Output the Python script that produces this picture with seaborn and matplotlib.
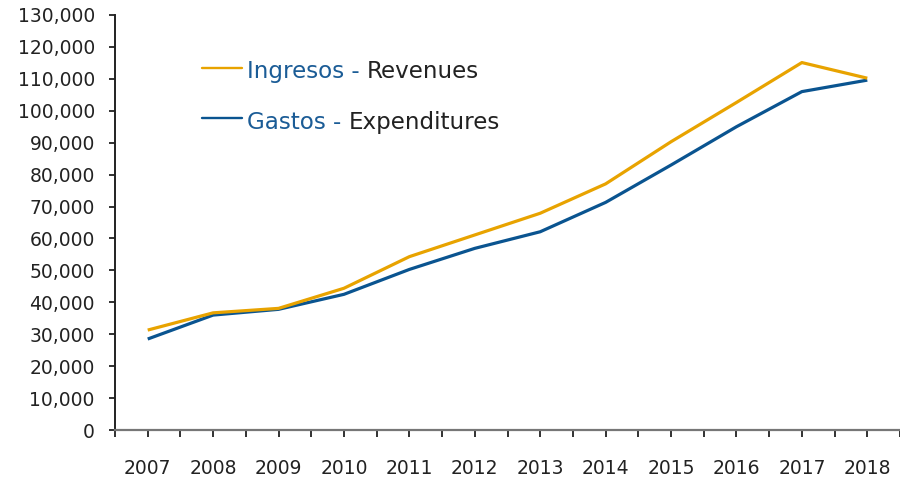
import numpy as np
import pandas as pd
import matplotlib
matplotlib.use("Agg")
import matplotlib.pyplot as plt
import seaborn as sns
from matplotlib.ticker import FuncFormatter
from matplotlib.lines import Line2D

years = [2007, 2008, 2009, 2010, 2011, 2012, 2013, 2014, 2015, 2016, 2017, 2018]
ingresos = [31300, 36700, 38100, 44400, 54300, 61100, 67900, 77100, 90300, 102600, 115100, 110200]
gastos = [28500, 36000, 37800, 42500, 50300, 56900, 62100, 71300, 83000, 95000, 106000, 109600]
ytick_values = list(range(0, 130001, 10000))

legend_ing = ("Ingresos - ", "Revenues")
legend_gas = ("Gastos - ", "Expenditures")

col_ing = "#E8A300"
col_gas = "#0A5490"
col_txt_blue = "#1B5C96"
col_dark = "#222222"

sns.set_theme(style="white")
plt.rcParams['font.family'] = ['DejaVu Sans']

df = pd.DataFrame({"year": years, "Ingresos": ingresos, "Gastos": gastos})
long = df.melt(id_vars="year", var_name="serie", value_name="valor")

fig = plt.figure(figsize=(9, 4.87), dpi=100)
ax = fig.add_axes([115/900, 1-430/487, (900-115)/900, (430-15)/487])

sns.lineplot(data=long, x="year", y="valor", hue="serie",
             palette={"Ingresos": col_ing, "Gastos": col_gas},
             hue_order=["Gastos", "Ingresos"],
             linewidth=2.3, ax=ax, legend=False)
for ln in ax.lines:
    ln.set_solid_joinstyle("round")
    ln.set_solid_capstyle("butt")

ax.set_xlim(2006.5, 2018.5)
ax.set_ylim(0, 130000)
ax.set_xticks(years)
ax.set_xticks(np.arange(2006.5, 2018.6, 1.0), minor=True)
ax.set_yticks(ytick_values)
ax.yaxis.set_major_formatter(FuncFormatter(lambda v, p: f"{v:,.0f}"))
ax.set_xlabel("")
ax.set_ylabel("")

for s in ["top", "right"]:
    ax.spines[s].set_visible(False)
ax.spines["left"].set_color(col_dark)
ax.spines["left"].set_linewidth(1.4)
ax.spines["bottom"].set_color("#777777")
ax.spines["bottom"].set_linewidth(1.6)

ax.tick_params(axis="y", which="major", direction="out", length=4.5, width=1.3,
               color=col_dark, labelsize=13.5, labelcolor=col_dark, pad=10, left=True)
ax.tick_params(axis="x", which="major", direction="out", length=5, width=1.3,
               color=col_dark, labelsize=13.5, labelcolor=col_dark, pad=16, bottom=True)
ax.tick_params(axis="x", which="minor", direction="out", length=5, width=1.3,
               color=col_dark, bottom=True)
ax.grid(False)

# custom legend
def legend_entry(y_line, y_base, label, color):
    fig.add_artist(Line2D([202/900, 242/900], [1-y_line/487, 1-y_line/487],
                          color=color, lw=1.7, transform=fig.transFigure))
    t1 = fig.text(247/900, 1-y_base/487, label[0], color=col_txt_blue,
                  fontsize=16.6, va="baseline", ha="left")
    ax.annotate(label[1], xy=(1, 0), xycoords=t1, va="bottom", ha="left",
                color=col_dark, fontsize=16.6, annotation_clip=False)

legend_entry(67.5, 78, legend_ing, col_ing)
legend_entry(118, 129, legend_gas, col_gas)

fig.savefig("out.png", dpi=100)
